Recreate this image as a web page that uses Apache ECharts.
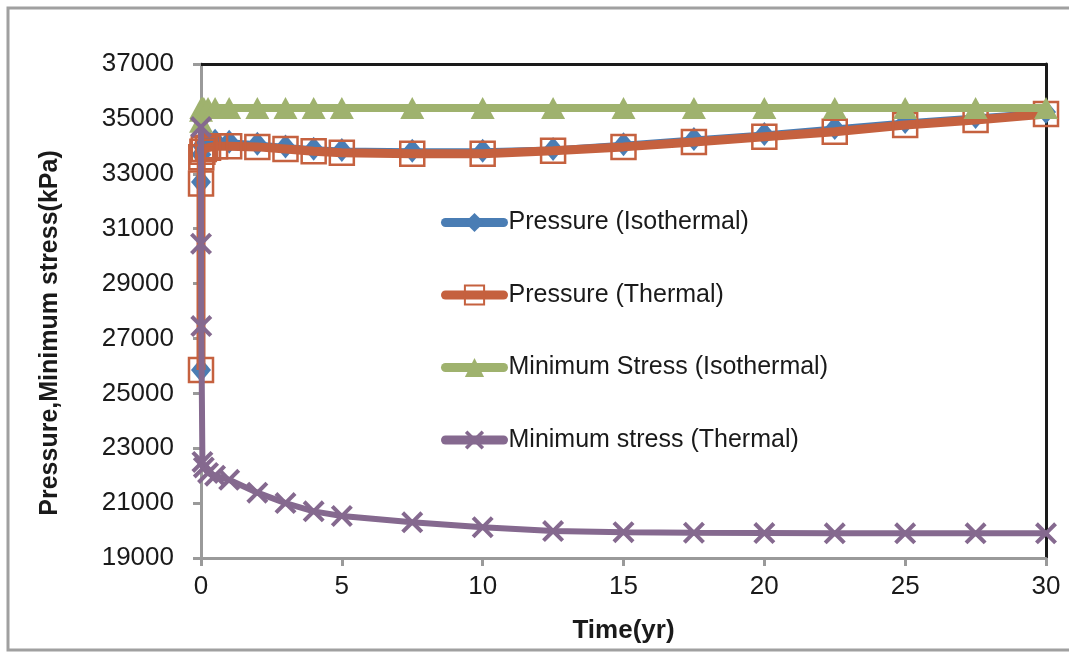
<!DOCTYPE html>
<html>
<head>
<meta charset="utf-8">
<script src="https://cdn.jsdelivr.net/npm/echarts@6/dist/echarts.min.js"></script>
<style>html,body{margin:0;padding:0;background:#fff}#c{width:1069px;height:652px}</style>
</head>
<body>
<div id="c"></div>
<script>
const times = [0, 0.001, 0.01, 0.05, 0.1, 0.25, 0.5, 1, 2, 3, 4, 5, 7.5, 10, 12.5, 15, 17.5, 20, 22.5, 25, 27.5, 30];
const pressureIso = [25850, 32700, 33700, 34000, 34100, 34200, 34200, 34170, 34090, 33990, 33910, 33870, 33840, 33840, 33900, 34080, 34270, 34450, 34670, 34890, 35070, 35250];
const pressureThermal = [25850, 32650, 33600, 33800, 33900, 33950, 34000, 34000, 33980, 33900, 33820, 33770, 33730, 33730, 33840, 33980, 34160, 34350, 34530, 34780, 34960, 35180];
const stressIso = [34900, 35300, 35400, 35400, 35400, 35400, 35400, 35400, 35400, 35400, 35400, 35400, 35400, 35400, 35400, 35400, 35400, 35400, 35400, 35400, 35400, 35400];
const stressThermal = [34700, 30450, 27450, 22500, 22300, 22100, 22000, 21850, 21380, 21000, 20700, 20530, 20300, 20120, 19980, 19940, 19920, 19910, 19900, 19900, 19900, 19900];
const seriesNames = ['Pressure (Isothermal)', 'Pressure (Thermal)', 'Minimum Stress (Isothermal)', 'Minimum stress (Thermal)'];
const yTicks = {min: 19000, max: 37000, interval: 2000};
const xTicks = {min: 0, max: 30, interval: 5};

const pairs = vals => times.map((t, i) => [t, vals[i]]);
const crossPath = 'path://M0,1.3 L1.3,0 L5,3.7 L8.7,0 L10,1.3 L6.3,5 L10,8.7 L8.7,10 L5,6.3 L1.3,10 L0,8.7 L3.7,5 Z';
const font = '"Liberation Sans", Arial, sans-serif';

const chart = echarts.init(document.getElementById('c'), null, {renderer: 'canvas'});
chart.setOption({
  animation: false,
  backgroundColor: '#fff',
  grid: {left: 201, right: 23, top: 64, bottom: 94, containLabel: false},
  graphic: [{
    type: 'rect', silent: true,
    shape: {x: 8, y: 8, width: 1080, height: 642},
    style: {fill: 'none', stroke: '#a0a0a0', lineWidth: 3}
  }],
  legend: {
    orient: 'vertical', left: 436, top: 205,
    itemWidth: 58, itemHeight: 24, itemGap: 47.5,
    lineStyle: {width: 9, cap: 'round'},
    textStyle: {fontFamily: font, fontSize: 25, color: '#1a1a1a'},
    data: seriesNames
  },
  xAxis: [{
    type: 'value', min: xTicks.min, max: xTicks.max, interval: xTicks.interval,
    name: 'Time(yr)', nameLocation: 'middle', nameGap: 60,
    nameTextStyle: {fontFamily: font, fontSize: 26, fontWeight: 'bold', color: '#1a1a1a'},
    axisLine: {onZero: false, lineStyle: {color: '#9a9a9a', width: 3}},
    axisTick: {show: true, inside: false, length: 8, lineStyle: {color: '#9a9a9a', width: 3}},
    axisLabel: {margin: 16, fontFamily: font, fontSize: 26, color: '#1a1a1a'},
    splitLine: {show: false}
  }, {
    type: 'value', position: 'top', min: xTicks.min, max: xTicks.max,
    axisLine: {show: true, onZero: false, lineStyle: {color: '#1a1a1a', width: 3}},
    axisTick: {show: false}, axisLabel: {show: false}, splitLine: {show: false}
  }],
  yAxis: [{
    type: 'value', min: yTicks.min, max: yTicks.max, interval: yTicks.interval,
    name: 'Pressure,Minimum stress(kPa)', nameLocation: 'middle', nameGap: 138,
    nameTextStyle: {fontFamily: font, fontSize: 25, fontWeight: 'bold', color: '#1a1a1a', padding: [0, 44, 0, 0]},
    axisLine: {show: true, onZero: false, lineStyle: {color: '#9a9a9a', width: 3}},
    axisTick: {show: true, inside: false, length: 8, lineStyle: {color: '#9a9a9a', width: 3}},
    axisLabel: {margin: 27, fontFamily: font, fontSize: 26, color: '#1a1a1a', formatter: v => String(v)},
    splitLine: {show: false}
  }, {
    type: 'value', position: 'right', min: yTicks.min, max: yTicks.max,
    axisLine: {show: true, onZero: false, lineStyle: {color: '#1a1a1a', width: 3}},
    axisTick: {show: false}, axisLabel: {show: false}, splitLine: {show: false}
  }],
  series: [{
    name: seriesNames[0], type: 'line', data: pairs(pressureIso),
    symbol: 'diamond', symbolSize: [20, 24],
    lineStyle: {color: '#4a7db4', width: 5},
    itemStyle: {color: '#4a7db4'}, z: 2
  }, {
    name: seriesNames[1], type: 'line', data: pairs(pressureThermal),
    symbol: 'rect', symbolSize: 24,
    lineStyle: {color: '#c5613f', width: 9},
    itemStyle: {color: 'rgba(255,255,255,0)', borderColor: '#c5613f', borderWidth: 2.5}, z: 3
  }, {
    name: seriesNames[2], type: 'line', data: pairs(stressIso),
    symbol: 'triangle', symbolSize: [24, 22],
    lineStyle: {color: '#9fb26e', width: 8},
    itemStyle: {color: '#9fb26e'}, z: 4
  }, {
    name: seriesNames[3], type: 'line', data: pairs(stressThermal),
    symbol: crossPath, symbolSize: 22,
    lineStyle: {color: '#85698f', width: 6},
    itemStyle: {color: '#85698f'}, z: 5
  }]
});
</script>
</body>
</html>
